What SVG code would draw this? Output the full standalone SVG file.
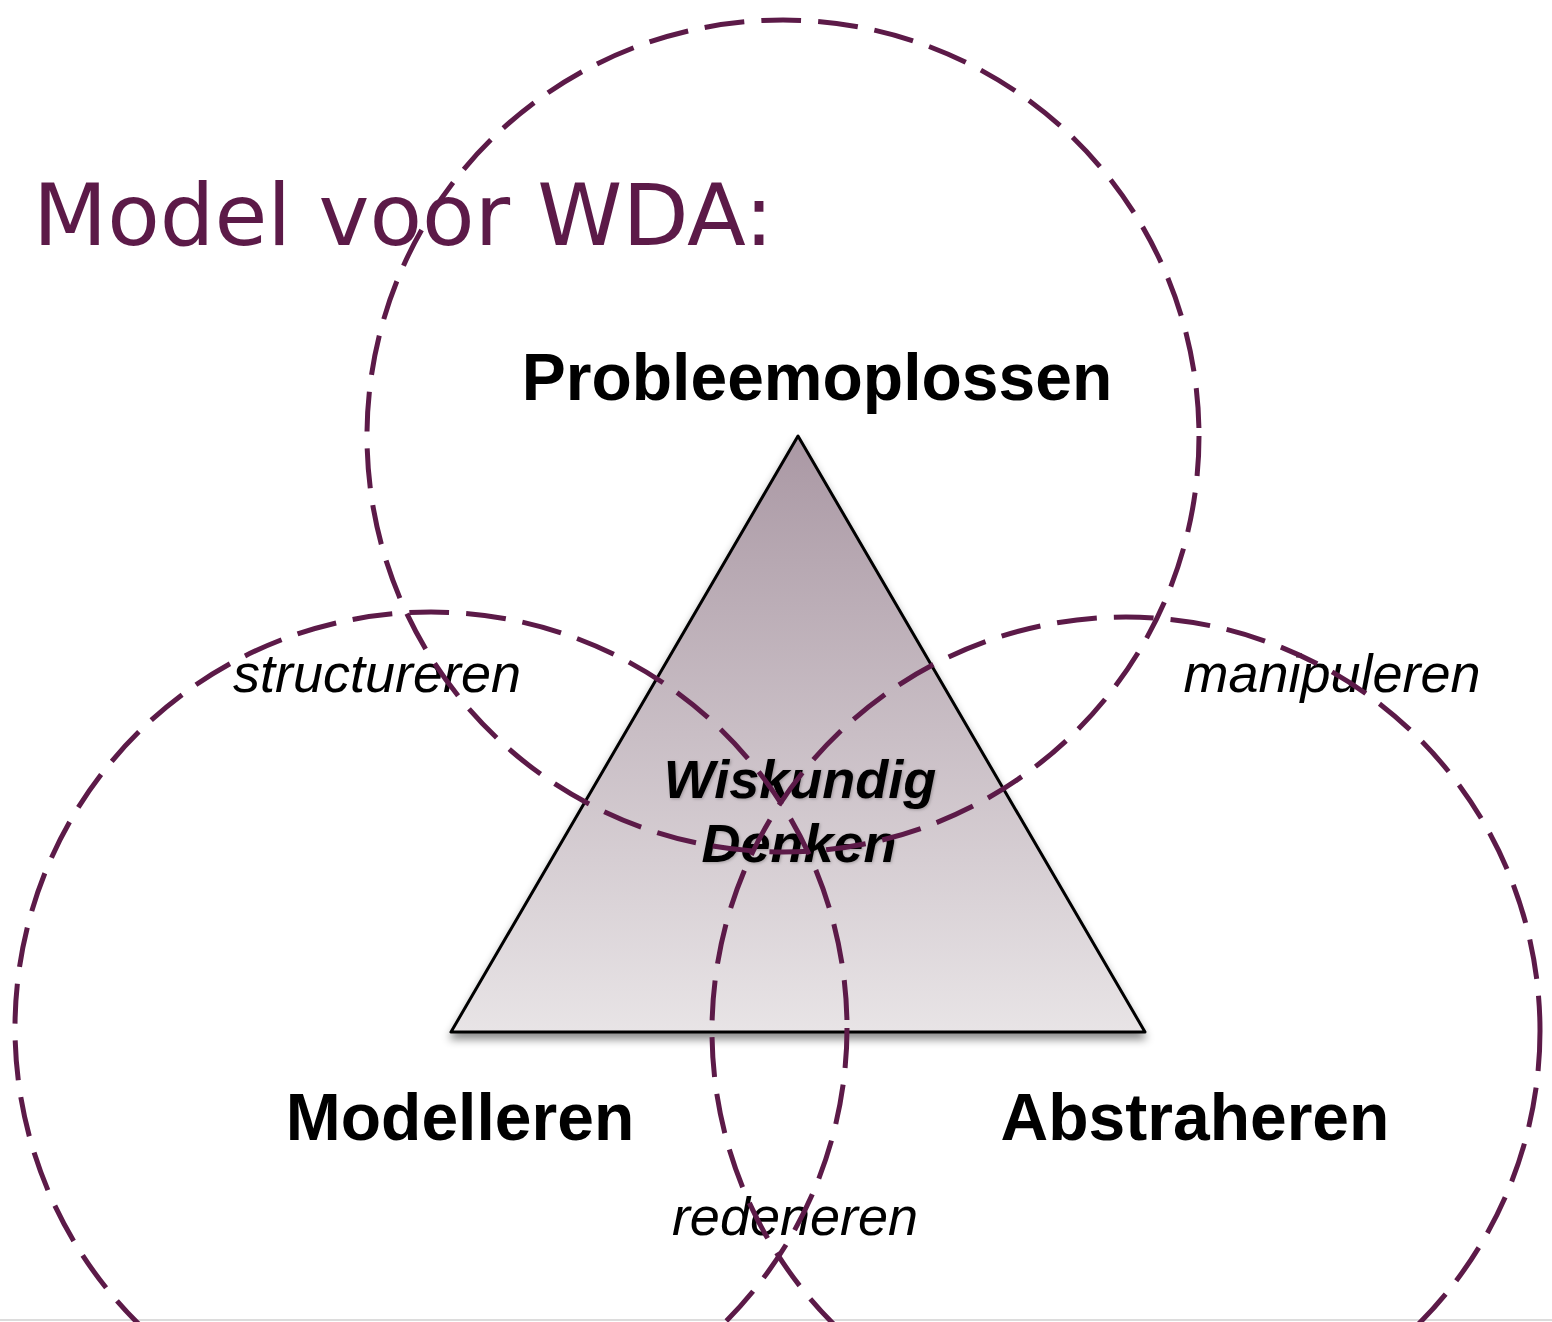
<svg xmlns="http://www.w3.org/2000/svg" width="1552" height="1322" viewBox="0 0 1552 1322">
<style>
.title{font-family:"DejaVu Sans",Verdana,sans-serif;font-size:86px;fill:#5c1a48}
.main{font-family:"Liberation Sans",Arial,sans-serif;font-weight:bold;font-size:66px;fill:#000;text-anchor:middle}
.center{font-family:"Liberation Sans",Arial,sans-serif;font-weight:bold;font-style:italic;font-size:54px;fill:#000;text-anchor:middle}
.label{font-family:"Liberation Sans",Arial,sans-serif;font-style:italic;font-size:54px;fill:#000;text-anchor:middle}
.circle{fill:none;stroke:#5c1a48;stroke-width:5;stroke-dasharray:40 17}
</style>
<defs>
<linearGradient id="tri" x1="0" y1="0" x2="0" y2="1">
<stop offset="0" stop-color="#aa98a4"/>
<stop offset="1" stop-color="#e8e4e6"/>
</linearGradient>
<filter id="sh" x="-10%" y="-10%" width="120%" height="125%">
<feDropShadow dx="0" dy="6" stdDeviation="4" flood-color="#000" flood-opacity="0.45"/>
</filter>
<filter id="tsh" x="-10%" y="-20%" width="120%" height="150%">
<feDropShadow dx="1" dy="1" stdDeviation="1.5" flood-color="#000" flood-opacity="0.25"/>
</filter>
</defs>
<rect width="1552" height="1322" fill="#fff"/>
<line x1="0" y1="1320" x2="1552" y2="1320" stroke="#dcdcdc" stroke-width="2"/>
<g id="title"><text class="title" x="33" y="245">Model voor WDA:</text></g>
<g id="triangle">
<polygon points="798,436 451,1032 1145,1032" fill="url(#tri)" stroke="#000" stroke-width="3" stroke-linejoin="round" filter="url(#sh)"/>
</g>
<g id="node-probleemoplossen"><text class="main" x="817" y="400">Probleemoplossen</text></g>
<g id="node-modelleren"><text class="main" x="460" y="1140">Modelleren</text></g>
<g id="node-abstraheren"><text class="main" x="1195" y="1140">Abstraheren</text></g>
<g id="node-center" filter="url(#tsh)">
<text class="center" x="800" y="798">Wiskundig</text>
<text class="center" x="799" y="862">Denken</text>
</g>
<g id="labels">
<text class="label" x="377" y="692">structureren</text>
<text class="label" x="1332" y="692">manipuleren</text>
<text class="label" x="795" y="1235">redeneren</text>
</g>
<g id="circles">
<circle class="circle" cx="783" cy="436" r="416"/>
<circle class="circle" cx="431" cy="1028" r="416"/>
<circle class="circle" cx="1126" cy="1031" r="414"/>
</g>
</svg>
